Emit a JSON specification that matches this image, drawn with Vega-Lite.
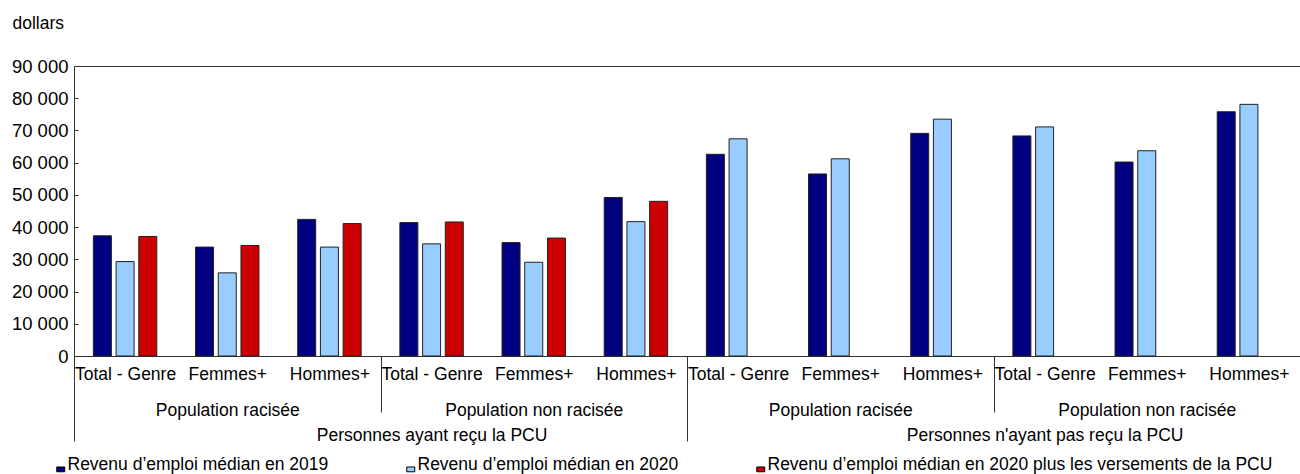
{
  "$schema": "https://vega.github.io/schema/vega-lite/v6.json",
  "width": 1226,
  "height": 290,
  "padding": {"left": 11, "top": 14, "right": 0, "bottom": 0},
  "config": {
    "font": "Liberation Sans",
    "view": {"stroke": null},
    "axis": {"labelColor": "black", "titleColor": "black", "labelFontSize": 17.5, "titleFontSize": 17.5, "titleFontWeight": "normal"}
  },
  "data": {
    "values": [
      {"groupe": "Personnes ayant reçu la PCU|Population racisée|Total - Genre", "serie": "Revenu d’emploi médian en 2019", "valeur": 37300},
      {"groupe": "Personnes ayant reçu la PCU|Population racisée|Total - Genre", "serie": "Revenu d’emploi médian en 2020", "valeur": 29300},
      {"groupe": "Personnes ayant reçu la PCU|Population racisée|Total - Genre", "serie": "Revenu d’emploi médian en 2020 plus les versements de la PCU", "valeur": 37100},
      {"groupe": "Personnes ayant reçu la PCU|Population racisée|Femmes+", "serie": "Revenu d’emploi médian en 2019", "valeur": 33800},
      {"groupe": "Personnes ayant reçu la PCU|Population racisée|Femmes+", "serie": "Revenu d’emploi médian en 2020", "valeur": 25800},
      {"groupe": "Personnes ayant reçu la PCU|Population racisée|Femmes+", "serie": "Revenu d’emploi médian en 2020 plus les versements de la PCU", "valeur": 34300},
      {"groupe": "Personnes ayant reçu la PCU|Population racisée|Hommes+", "serie": "Revenu d’emploi médian en 2019", "valeur": 42400},
      {"groupe": "Personnes ayant reçu la PCU|Population racisée|Hommes+", "serie": "Revenu d’emploi médian en 2020", "valeur": 33800},
      {"groupe": "Personnes ayant reçu la PCU|Population racisée|Hommes+", "serie": "Revenu d’emploi médian en 2020 plus les versements de la PCU", "valeur": 41100},
      {"groupe": "Personnes ayant reçu la PCU|Population non racisée|Total - Genre", "serie": "Revenu d’emploi médian en 2019", "valeur": 41400},
      {"groupe": "Personnes ayant reçu la PCU|Population non racisée|Total - Genre", "serie": "Revenu d’emploi médian en 2020", "valeur": 34800},
      {"groupe": "Personnes ayant reçu la PCU|Population non racisée|Total - Genre", "serie": "Revenu d’emploi médian en 2020 plus les versements de la PCU", "valeur": 41600},
      {"groupe": "Personnes ayant reçu la PCU|Population non racisée|Femmes+", "serie": "Revenu d’emploi médian en 2019", "valeur": 35200},
      {"groupe": "Personnes ayant reçu la PCU|Population non racisée|Femmes+", "serie": "Revenu d’emploi médian en 2020", "valeur": 29100},
      {"groupe": "Personnes ayant reçu la PCU|Population non racisée|Femmes+", "serie": "Revenu d’emploi médian en 2020 plus les versements de la PCU", "valeur": 36600},
      {"groupe": "Personnes ayant reçu la PCU|Population non racisée|Hommes+", "serie": "Revenu d’emploi médian en 2019", "valeur": 49200},
      {"groupe": "Personnes ayant reçu la PCU|Population non racisée|Hommes+", "serie": "Revenu d’emploi médian en 2020", "valeur": 41700},
      {"groupe": "Personnes ayant reçu la PCU|Population non racisée|Hommes+", "serie": "Revenu d’emploi médian en 2020 plus les versements de la PCU", "valeur": 48000},
      {"groupe": "Personnes n'ayant pas reçu la PCU|Population racisée|Total - Genre", "serie": "Revenu d’emploi médian en 2019", "valeur": 62600},
      {"groupe": "Personnes n'ayant pas reçu la PCU|Population racisée|Total - Genre", "serie": "Revenu d’emploi médian en 2020", "valeur": 67400},
      {"groupe": "Personnes n'ayant pas reçu la PCU|Population racisée|Femmes+", "serie": "Revenu d’emploi médian en 2019", "valeur": 56500},
      {"groupe": "Personnes n'ayant pas reçu la PCU|Population racisée|Femmes+", "serie": "Revenu d’emploi médian en 2020", "valeur": 61200},
      {"groupe": "Personnes n'ayant pas reçu la PCU|Population racisée|Hommes+", "serie": "Revenu d’emploi médian en 2019", "valeur": 69100},
      {"groupe": "Personnes n'ayant pas reçu la PCU|Population racisée|Hommes+", "serie": "Revenu d’emploi médian en 2020", "valeur": 73500},
      {"groupe": "Personnes n'ayant pas reçu la PCU|Population non racisée|Total - Genre", "serie": "Revenu d’emploi médian en 2019", "valeur": 68300},
      {"groupe": "Personnes n'ayant pas reçu la PCU|Population non racisée|Total - Genre", "serie": "Revenu d’emploi médian en 2020", "valeur": 71100},
      {"groupe": "Personnes n'ayant pas reçu la PCU|Population non racisée|Femmes+", "serie": "Revenu d’emploi médian en 2019", "valeur": 60200},
      {"groupe": "Personnes n'ayant pas reçu la PCU|Population non racisée|Femmes+", "serie": "Revenu d’emploi médian en 2020", "valeur": 63700},
      {"groupe": "Personnes n'ayant pas reçu la PCU|Population non racisée|Hommes+", "serie": "Revenu d’emploi médian en 2019", "valeur": 75800},
      {"groupe": "Personnes n'ayant pas reçu la PCU|Population non racisée|Hommes+", "serie": "Revenu d’emploi médian en 2020", "valeur": 78100}
    ]
  },
  "mark": {"type": "bar", "stroke": "#222222", "strokeWidth": 1},
  "encoding": {
    "x": {
      "field": "groupe",
      "type": "nominal",
      "sort": null,
      "scale": {"paddingInner": 0, "paddingOuter": 0},
      "axis": {
        "title": null,
        "labelAngle": 0,
        "labelExpr": "split(datum.value,'|')[2] == 'Femmes+' ? [split(datum.value,'|')[2], '\u200b', '\u200b', split(datum.value,'|')[1]] : ((split(datum.value,'|')[2] == 'Total - Genre' && split(datum.value,'|')[1] == 'Population non racisée') ? [split(datum.value,'|')[2], '\u200b', '\u200b', '\u200b', '\u200b', split(datum.value,'|')[0]] : split(datum.value,'|')[2])",
        "labelLineHeight": 12.3,
        "labelPadding": {"condition": {"test": "datum.value == 'Personnes ayant reçu la PCU|Population non racisée|Hommes+'", "value": -76}, "value": -47},
        "labelLimit": 0,
        "labelOverlap": false,
        "labelBound": false,
        "labelFlush": false,
        "domainColor": "#333333",
        "ticks": true,
        "tickBand": "extent",
        "tickColor": "#333333",
        "tickWidth": 1,
        "tickSize": {"condition": {"test": "datum.extra || datum.value == 'Personnes ayant reçu la PCU|Population non racisée|Hommes+'", "value": 85}, "value": 56},
        "tickOpacity": {"condition": {"test": "datum.extra || (isString(datum.value) && indexof(datum.value, 'Hommes+') >= 0 && !(indexof(datum.value, 'pas reçu') >= 0 && indexof(datum.value, 'non racisée') >= 0))", "value": 1}, "value": 0}
      }
    },
    "xOffset": {
      "field": "serie",
      "type": "nominal",
      "scale": {"domain": ["Revenu d’emploi médian en 2019", "Revenu d’emploi médian en 2020", "Revenu d’emploi médian en 2020 plus les versements de la PCU"], "paddingInner": 0.207, "paddingOuter": 0.853}
    },
    "y": {
      "field": "valeur",
      "type": "quantitative",
      "scale": {"domain": [0, 90000], "nice": false},
      "axis": {
        "title": "dollars",
        "titleAngle": 0,
        "titleAlign": "left",
        "titleBaseline": "alphabetic",
        "titleX": -62,
        "titleY": -38,
        "values": [0, 10000, 20000, 30000, 40000, 50000, 60000, 70000, 80000, 90000],
        "labelExpr": "replace(format(datum.value, ','), ',', ' ')",
        "labelFontSize": 18.5,
        "labelPadding": 10,
        "tickSize": -4,
        "tickColor": "#333333",
        "domainColor": "#333333",
        "grid": true,
        "gridColor": "#333333",
        "gridOpacity": {"condition": {"test": "datum.value == 90000", "value": 1}, "value": 0}
      }
    },
    "fill": {
      "field": "serie",
      "type": "nominal",
      "scale": {"domain": ["Revenu d’emploi médian en 2019", "Revenu d’emploi médian en 2020", "Revenu d’emploi médian en 2020 plus les versements de la PCU"], "range": ["#000080", "#99CCFF", "#CC0000"]},
      "legend": {
        "orient": "none",
        "legendX": -22,
        "legendY": 390,
        "direction": "horizontal",
        "columns": 3,
        "columnPadding": 73,
        "title": null,
        "symbolType": "M-1,0.5H1V1.7H-1Z",
        "symbolSize": 64,
        "symbolStrokeColor": "#000000",
        "symbolStrokeWidth": 1,
        "symbolOpacity": 1,
        "labelFontSize": 17.5,
        "labelColor": "black",
        "labelOffset": -2,
        "labelLimit": 0
      }
    }
  }
}
